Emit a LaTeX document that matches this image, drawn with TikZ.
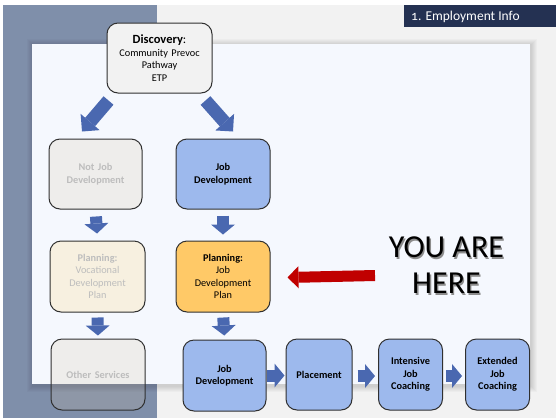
\documentclass[tikz,border=0pt]{standalone}
\usepackage{fontspec}
\setmainfont{Carlito}
\newfontfamily\tabfont[Numbers=OldStyle]{Carlito}
\usetikzlibrary{arrows.meta,calc}

\definecolor{pagegray}{HTML}{F2F2F2}
\definecolor{slate}{HTML}{7F8FAA}
\definecolor{navy}{HTML}{243152}
\definecolor{panel}{HTML}{F5F8FE}
\definecolor{stepblue}{HTML}{9DB9ED}
\definecolor{stepgold}{HTML}{FFC967}
\definecolor{stepbeige}{HTML}{F7F0E0}
\definecolor{stepgray}{HTML}{F2F2F2}
\definecolor{veilfill}{HTML}{D3C09A}
\definecolor{flowblue}{HTML}{4A68B0}
\definecolor{herered}{HTML}{C00000}
\definecolor{mutedtext}{HTML}{BDBDBD}
\definecolor{edgegray}{HTML}{303030}

\tikzset{
  box/.style={draw=edgegray, line width=1pt, rounded corners=11pt,
    align=center, inner sep=2pt,
    font=\fontsize{10.3}{12.5}\selectfont},
  activebox/.style={box, fill=stepblue},
  mutedbox/.style={box, fill=veilfill, fill opacity=0.18, draw opacity=1,
    text opacity=1, text=mutedtext},
  blockarrow/.style={draw=flowblue, line width=12pt,
    -{Triangle[length=10pt,width=24pt,line width=0pt]}},
  slantarrow/.style={draw=flowblue, line width=13pt,
    -{Triangle[length=12.5pt,width=25pt,line width=0pt]}},
  pointer/.style={draw=herered, line width=11pt,
    -{Triangle[length=11pt,width=22pt,line width=0pt]}},
}

\begin{document}
\begin{tikzpicture}[x=1pt,y=-1pt]
\useasboundingbox (0,0) rectangle (556,418);

% backdrop
\fill[white] (0,0) rectangle (556,418);
\fill[pagegray] (3,5) rectangle (556,418);
\fill[slate] (3,5) rectangle (157,418);

% section tab
\fill[navy] (404,5) rectangle (556,27);
\node[anchor=west, text=white, inner sep=0pt,
  font=\tabfont\fontsize{13.5}{16}\selectfont] (tab) at (411,16.5) {1. Employment Info};

% content sheet with soft shadow
\foreach \i in {1,...,6}
  \fill[black, opacity=0.022] ({33-\i},{45-\i}) rectangle ({531+\i},{386+\i});
\fill[panel] (32,44) rectangle (530,384);

% steps
\node[box, fill=stepgray, minimum width=105pt, minimum height=70pt, text width=100pt]
  (disc) at (159.5,58)
  {{\fontsize{12.5}{14}\selectfont\textbf{Discovery}:}\\Community Prevoc\\Pathway\\ETP};

\node[mutedbox, minimum width=93pt, minimum height=70pt, text width=88pt]
  (nj) at (95.5,174) {\textbf{Not Job}\\\textbf{Development}};
\node[activebox, minimum width=94pt, minimum height=70pt, text width=88pt]
  (jd) at (223,174) {\textbf{Job}\\\textbf{Development}};

\node[box, fill=stepbeige, text=mutedtext, minimum width=95pt, minimum height=71pt, text width=88pt]
  (pv) at (97.5,276.5) {\textbf{Planning:}\\Vocational\\Development\\Plan};
\node[box, fill=stepgold, minimum width=94pt, minimum height=71pt, text width=88pt]
  (pj) at (223,276.5) {\textbf{Planning:}\\Job\\Development\\Plan};

\node[mutedbox, minimum width=94pt, minimum height=71pt, text width=88pt]
  (os) at (98,374.5) {\textbf{Other Services}};
\node[activebox, minimum width=83pt, minimum height=71pt, text width=78pt]
  (jd2) at (224.5,375.5) {\textbf{Job}\\\textbf{Development}};
\node[activebox, minimum width=66pt, minimum height=71pt, text width=62pt]
  (pl) at (319,374.5) {\textbf{Placement}};
\node[activebox, minimum width=63pt, minimum height=71pt, text width=60pt]
  (ijc) at (410.5,374.5) {\textbf{Intensive}\\\textbf{Job}\\\textbf{Coaching}};
\node[activebox, minimum width=63pt, minimum height=71pt, text width=60pt]
  (ejc) at (497.5,374.5) {\textbf{Extended}\\\textbf{Job}\\\textbf{Coaching}};

% flow arrows
\draw[slantarrow] ([shift={(2,7)}]disc.south west) -- ([shift={(-13.5,-7)}]nj.north);
\draw[slantarrow] ([shift={(-7,7)}]disc.south east) -- ([shift={(10,-7)}]jd.north);

\draw[blockarrow, shorten <=7pt, shorten >=7pt] (nj.south) -- (pv.north);
\draw[blockarrow, shorten <=6pt, shorten >=6pt] (jd.south) -- (pj.north);
\draw[blockarrow, shorten <=5pt, shorten >=3pt] (pv.south) -- (os.north);
\draw[blockarrow, shorten <=5pt, shorten >=4pt] (pj.south) -- (jd2.north);

\draw[blockarrow] (jd2.east) -- ([xshift=-1pt]pl.west |- jd2.east);
\draw[blockarrow, shorten <=5pt, shorten >=3pt] ([yshift=-1.5pt]pl.east) -- ([yshift=-1.5pt]ijc.west);
\draw[blockarrow, shorten <=3pt, shorten >=3pt] ([yshift=-1.5pt]ijc.east) -- ([yshift=-1.5pt]ejc.west);

% "you are here" marker
\coordinate (herestart) at (375,275.5);
\draw[pointer] (herestart) -- ([xshift=17pt, yshift=-1pt]pj.east);

\node[text=black!45, align=center, font=\fontsize{32}{36}\selectfont]
  (hereshade) at (447.8,266.8) {YOU ARE\\HERE};
\node[text=black, align=center, font=\fontsize{32}{36}\selectfont]
  (here) at (446.5,265.5) {YOU ARE\\HERE};
\end{tikzpicture}
\end{document}
